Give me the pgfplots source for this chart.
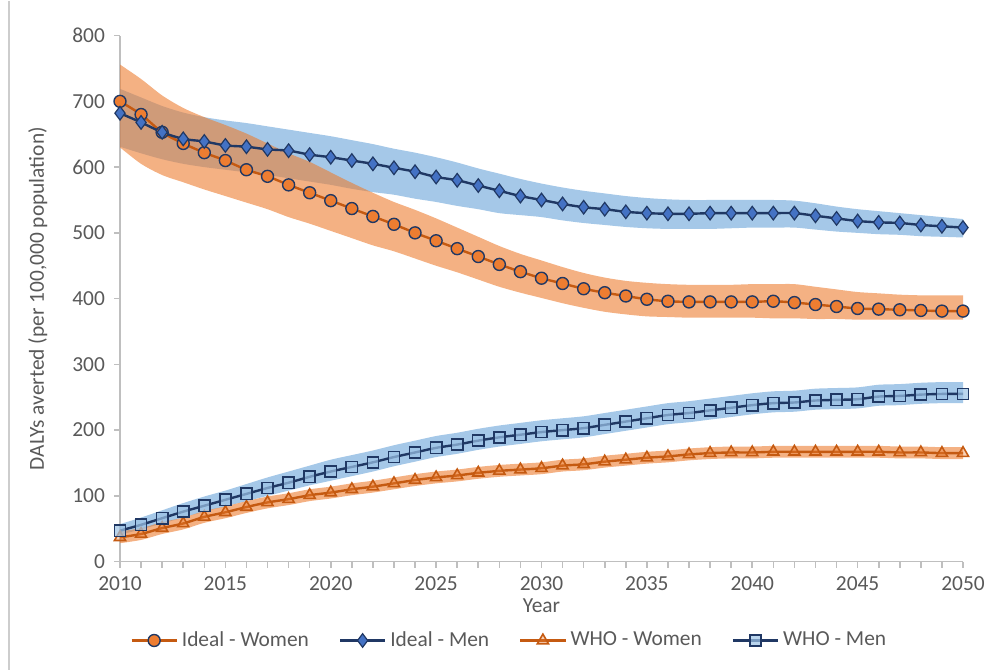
\documentclass[border=0pt]{standalone}
\usepackage{fontspec}
\setmainfont{Carlito}
\usepackage{pgfplots}
\pgfplotsset{compat=1.18}
\usepackage{pgfplotstable}
\usepgfplotslibrary{fillbetween}

\definecolor{axisgray}{RGB}{191,191,191}
\definecolor{textgray}{RGB}{89,89,89}
\definecolor{orline}{RGB}{197,90,17}
\definecolor{orfill}{RGB}{237,125,49}
\definecolor{navy}{RGB}{32,56,100}
\definecolor{dfill}{RGB}{68,114,196}
\definecolor{bband}{RGB}{91,155,213}
\definecolor{sqfill}{RGB}{157,195,230}

\pgfplotstableread{
year v lo hi
2010 700 630 756
2011 680 605 734
2012 653 588 709
2013 636 577 690
2014 622 566 676
2015 610 556 664
2016 596 546 651
2017 586 536 636
2018 573 524 621
2019 561 514 608
2020 549 503 592
2021 537 492 576
2022 525 481 561
2023 513 472 547
2024 500 461 535
2025 488 450 522
2026 476 440 508
2027 464 429 494
2028 452 418 480
2029 441 409 468
2030 431 401 458
2031 423 393 448
2032 415 386 439
2033 409 380 432
2034 404 376 427
2035 399 373 424
2036 396 372 422
2037 395 371 421
2038 395 371 421
2039 395 371 421
2040 395 371 422
2041 396 370 422
2042 394 370 422
2043 391 369 418
2044 388 369 414
2045 385 368 410
2046 384 368 408
2047 383 368 406
2048 382 368 405
2049 381 368 405
2050 381 368 405
}\idealW

\pgfplotstableread{
year v lo hi
2010 682 631 719
2011 668 621 706
2012 653 612 693
2013 643 605 683
2014 639 600 676
2015 633 596 671
2016 631 592 667
2017 627 588 662
2018 625 583 657
2019 619 578 652
2020 615 573 647
2021 610 567 641
2022 605 562 635
2023 599 558 628
2024 593 552 622
2025 585 547 615
2026 580 541 607
2027 572 536 598
2028 564 530 590
2029 556 527 582
2030 550 524 575
2031 544 519 569
2032 539 515 564
2033 536 512 560
2034 532 509 556
2035 530 507 553
2036 529 506 551
2037 529 506 550
2038 530 506 550
2039 530 507 550
2040 530 508 550
2041 530 508 550
2042 530 508 549
2043 526 505 545
2044 522 502 540
2045 518 500 536
2046 516 498 533
2047 515 497 530
2048 512 495 527
2049 510 494 524
2050 508 493 521
}\idealM

\pgfplotstableread{
year v lo hi
2010 37 28 46
2011 42 33 51
2012 51 42 60
2013 58 49 67
2014 68 59 77
2015 75 66 84
2016 83 74 92
2017 90 81 99
2018 95 86 104
2019 101 92 110
2020 105 96 114
2021 110 101 119
2022 114 105 123
2023 119 110 128
2024 124 115 133
2025 128 119 137
2026 131 122 140
2027 135 126 144
2028 138 129 147
2029 140 131 149
2030 142 133 151
2031 146 137 155
2032 148 139 157
2033 152 143 161
2034 155 146 164
2035 158 149 167
2036 160 151 169
2037 163 154 172
2038 165 156 174
2039 166 157 175
2040 166 157 175
2041 167 158 176
2042 167 158 176
2043 167 158 176
2044 167 158 176
2045 167 158 176
2046 167 158 176
2047 166 157 175
2048 166 157 175
2049 165 156 174
2050 165 156 174
}\whoW

\pgfplotstableread{
year v lo hi
2010 47 41 57
2011 56 49 67
2012 66 58 78
2013 76 67 89
2014 85 76 99
2015 94 84 108
2016 103 92 118
2017 112 100 128
2018 120 108 137
2019 129 116 146
2020 137 123 155
2021 144 130 162
2022 151 137 169
2023 159 145 177
2024 166 152 184
2025 173 159 191
2026 178 164 196
2027 184 170 202
2028 189 175 207
2029 193 179 211
2030 197 183 215
2031 200 186 218
2032 203 189 221
2033 208 194 226
2034 213 199 231
2035 218 204 236
2036 223 209 241
2037 226 212 244
2038 230 216 248
2039 234 220 252
2040 238 224 256
2041 241 227 259
2042 242 228 260
2043 245 231 263
2044 246 232 264
2045 247 233 265
2046 251 237 269
2047 252 238 270
2048 254 240 272
2049 255 241 273
2050 255 241 273
}\whoM

\begin{document}
\begin{tikzpicture}
\begin{axis}[
  scale only axis, width=421.5pt, height=263pt,
  at={(0pt,0pt)}, anchor=south west,
  xmin=2010, xmax=2050, ymin=0, ymax=800,
  axis lines=left,
  axis line style={-, draw=axisgray, line width=0.8pt},
  xtick={2010,2015,...,2050},
  minor xtick={2010,2011,...,2050},
  ytick={0,100,...,800},
  tick align=outside,
  major tick length=3pt, minor tick length=3pt,
  tick style={draw=axisgray, line width=0.8pt},
  minor tick style={draw=axisgray, line width=0.8pt},
  /pgf/number format/assume math mode=true,
  xticklabel style={/pgf/number format/1000 sep={}, font=\fontsize{10.7}{12}\selectfont, text=textgray, yshift=-1pt},
  yticklabel style={font=\fontsize{10.7}{12}\selectfont, text=textgray, xshift=-1pt},
  xlabel={Year},
  ylabel={DALYs averted (per 100,000 population)},
  xlabel style={font=\fontsize{10.7}{12}\selectfont, text=textgray, at={(axis description cs:0.5,-0.0837)}, anchor=center},
  ylabel style={font=\fontsize{10.7}{12}\selectfont, text=textgray, at={(axis description cs:-0.0975,0.5)}, anchor=center},
  legend columns=4,
  legend style={draw=none, fill=none, at={(axis description cs:0.463,-0.15)}, anchor=center,
    font=\fontsize{10.7}{12}\selectfont, text=textgray,
    /tikz/every even column/.append style={column sep=13pt}},
  legend cell align=left,
  legend image code/.code={\draw[mark repeat=2,mark phase=2] plot coordinates {(0pt,0pt) (11.25pt,0pt) (22.5pt,0pt)};},
]
% bands
\addplot[draw=none, smooth, name path=imhi, forget plot] table[x=year,y=hi] {\idealM};
\addplot[draw=none, smooth, name path=imlo, forget plot] table[x=year,y=lo] {\idealM};
\addplot[bband, fill opacity=0.55, draw=none, forget plot] fill between[of=imhi and imlo];
\addplot[draw=none, smooth, name path=iwhi, forget plot] table[x=year,y=hi] {\idealW};
\addplot[draw=none, smooth, name path=iwlo, forget plot] table[x=year,y=lo] {\idealW};
\addplot[orfill, fill opacity=0.6, draw=none, forget plot] fill between[of=iwhi and iwlo];
\addplot[draw=none, smooth, name path=wmhi, forget plot] table[x=year,y=hi] {\whoM};
\addplot[draw=none, smooth, name path=wmlo, forget plot] table[x=year,y=lo] {\whoM};
\addplot[bband, fill opacity=0.55, draw=none, forget plot] fill between[of=wmhi and wmlo];
\addplot[draw=none, smooth, name path=wwhi, forget plot] table[x=year,y=hi] {\whoW};
\addplot[draw=none, smooth, name path=wwlo, forget plot] table[x=year,y=lo] {\whoW};
\addplot[orfill, fill opacity=0.6, draw=none, forget plot] fill between[of=wwhi and wwlo];
% lines
\addplot[orline, line width=1.2pt, smooth, mark=*, mark size=3.0pt,
  mark options={solid, fill=orfill, draw=navy, line width=0.7pt}] table[x=year,y=v] {\idealW};
\addlegendentry{Ideal - Women}
\addplot[navy, line width=1.2pt, smooth, mark=diamond*, mark size=3.4pt,
  mark options={solid, fill=dfill, draw=navy, line width=0.6pt}] table[x=year,y=v] {\idealM};
\addlegendentry{Ideal - Men}
\addplot[orline, line width=1.2pt, smooth, mark=triangle*, mark size=3.2pt,
  mark options={solid, fill=orfill, fill opacity=0.35, draw=orline, line width=0.8pt}] table[x=year,y=v] {\whoW};
\addlegendentry{WHO - Women}
\addplot[navy, line width=1.2pt, smooth, mark=square*, mark size=2.8pt,
  mark options={solid, fill=sqfill, fill opacity=0.7, draw=navy, line width=0.8pt}] table[x=year,y=v] {\whoM};
\addlegendentry{WHO - Men}
\end{axis}
\draw[color={rgb,255:red,205;green,205;blue,205}, line width=0.6pt] (-55.5pt,-54pt) -- (-55.5pt,280.5pt);
\path (-60pt,-54pt) rectangle (440pt,280.5pt);
\end{tikzpicture}
\end{document}
